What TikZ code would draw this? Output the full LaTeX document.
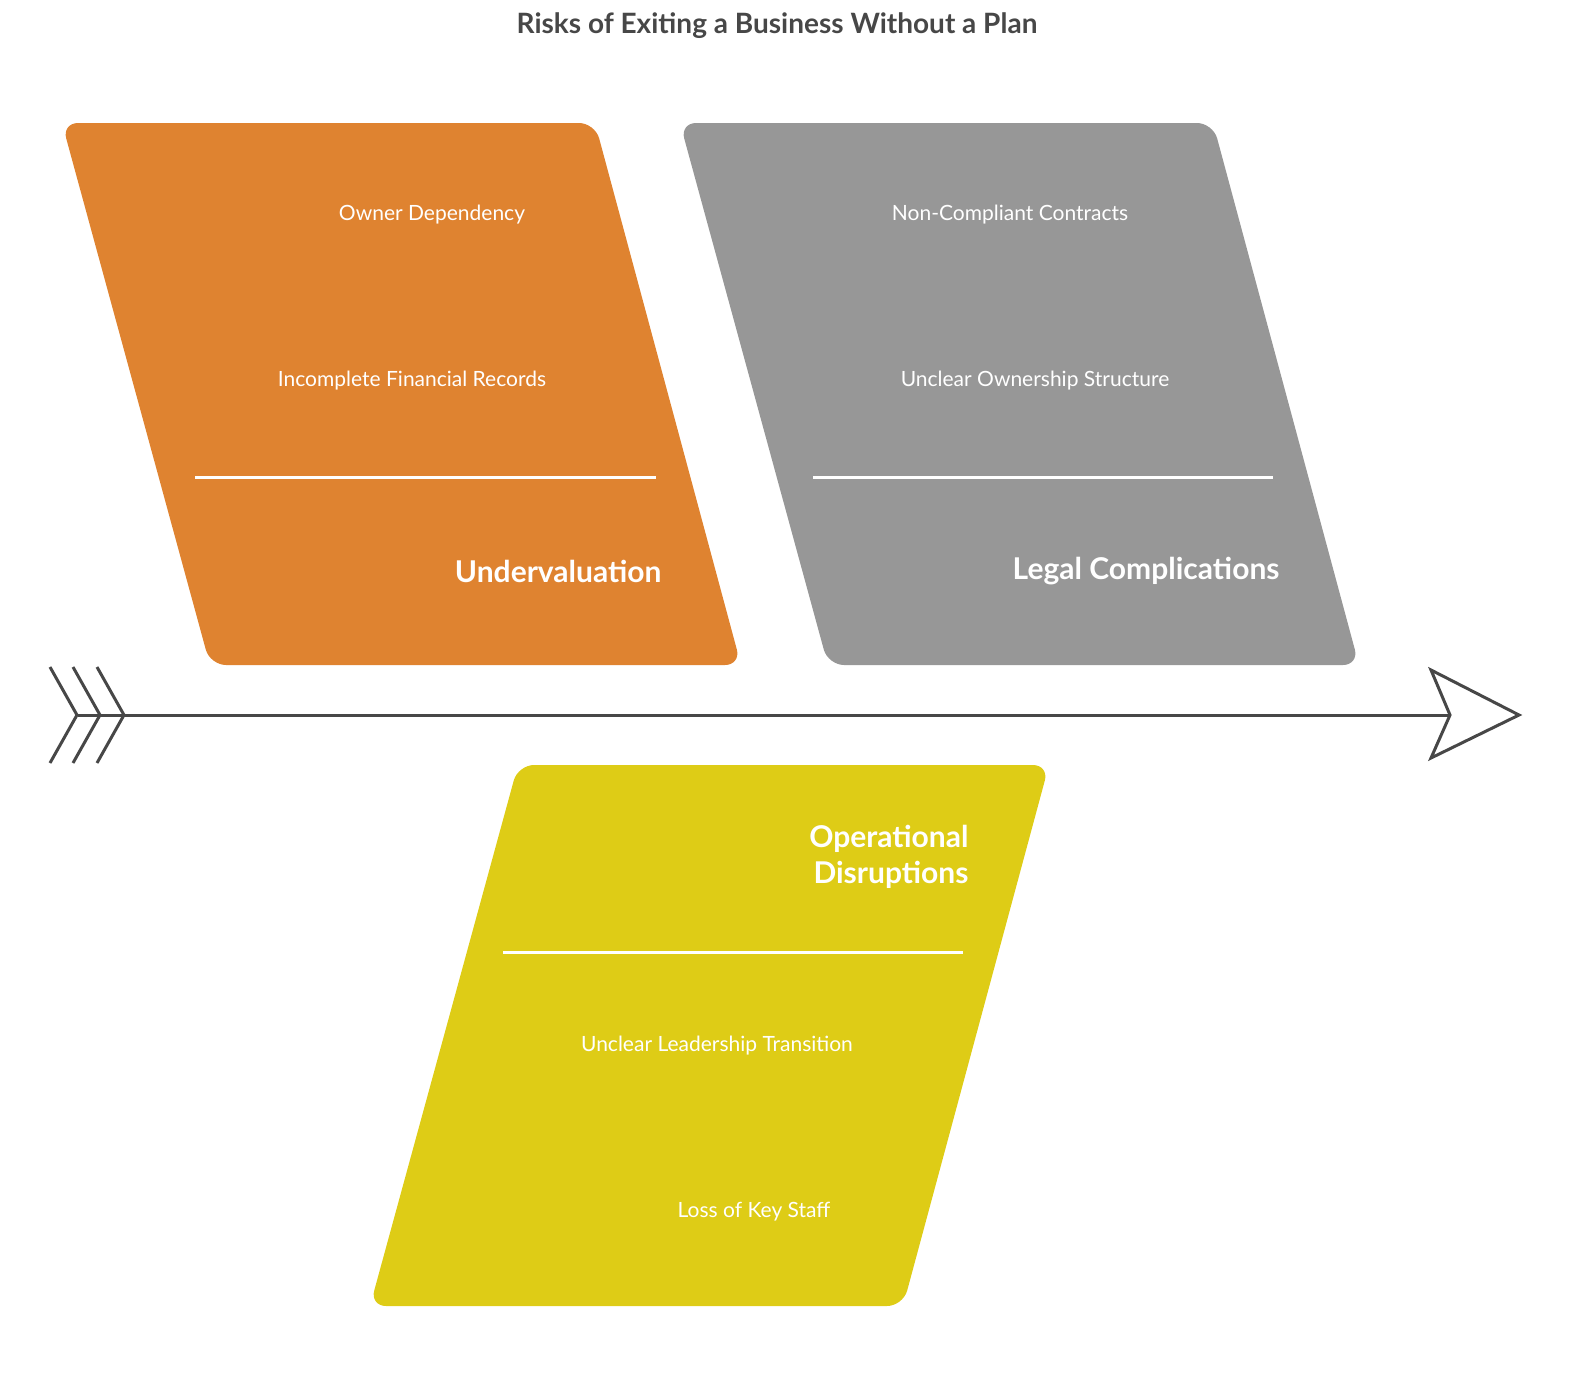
\documentclass[tikz,border=0pt]{standalone}
\usepackage{fontspec}
\setmainfont{Lato}
\definecolor{corange}{HTML}{DF8330}
\definecolor{cgray}{HTML}{979797}
\definecolor{cyellow}{HTML}{DECC16}
\definecolor{cdark}{HTML}{474747}
\tikzset{
  item/.style={text=white,font=\fontsize{21}{25}\selectfont},
  head/.style={text=white,font=\bfseries\fontsize{30}{36}\selectfont,align=right},
  sep/.style={white,line width=3pt},
  panel/.style={rounded corners=16pt},
  spine/.style={cdark,line width=3pt,line join=miter},
}
\begin{document}
\begin{tikzpicture}[x=1pt,y=-1pt]
\useasboundingbox (0,0) rectangle (1584,1373);
\node[text=cdark,font=\bfseries\fontsize{28}{34}\selectfont] (title) at (777,26) {Risks of Exiting a Business Without a Plan};
% panels
\fill[corange,panel] (62,123) -- (595,123) -- (741,665) -- (210,665) -- cycle;
\fill[cgray,panel] (680,123) -- (1213,123) -- (1359,665) -- (828,665) -- cycle;
\fill[cyellow,panel] (518,765) -- (1049,765) -- (903,1306) -- (370,1306) -- cycle;
% separators
\coordinate (s1a) at (195,477); \coordinate (s1b) at (656,477);
\coordinate (s2a) at (813,477); \coordinate (s2b) at (1273,477);
\coordinate (s3a) at (503,952); \coordinate (s3b) at (963,952);
\draw[sep] (s1a) -- (s1b);
\draw[sep] (s2a) -- (s2b);
\draw[sep] (s3a) -- (s3b);
% texts
\node[item] (a1) at (432,215) {Owner Dependency};
\node[item] (a2) at (412,381) {Incomplete Financial Records};
\node[head,anchor=east] (a0) at (665,571) {Undervaluation};
\node[item] (b1) at (1010,215) {Non-Compliant Contracts};
\node[item] (b2) at (1035,381) {Unclear Ownership Structure};
\node[head,anchor=east] (b0) at (1283,571) {Legal Complications};
\node[head,anchor=east] (c0) at (972,857) {Operational\\Disruptions};
\node[item] (c1) at (717,1046) {Unclear Leadership Transition};
\node[item] (c2) at (754,1212) {Loss of Key Staff};
% spine
\coordinate (sp0) at (78,715); \coordinate (sp1) at (1450,715);
\draw[spine] (sp0) -- (sp1);
\draw[spine] (1431,670) -- (1519,715) -- (1431,758) -- (sp1) -- cycle;
\foreach \x in {50,73,97} \draw[spine] (\x,667) -- (\x+27,715) -- (\x,763);
\end{tikzpicture}
\end{document}
